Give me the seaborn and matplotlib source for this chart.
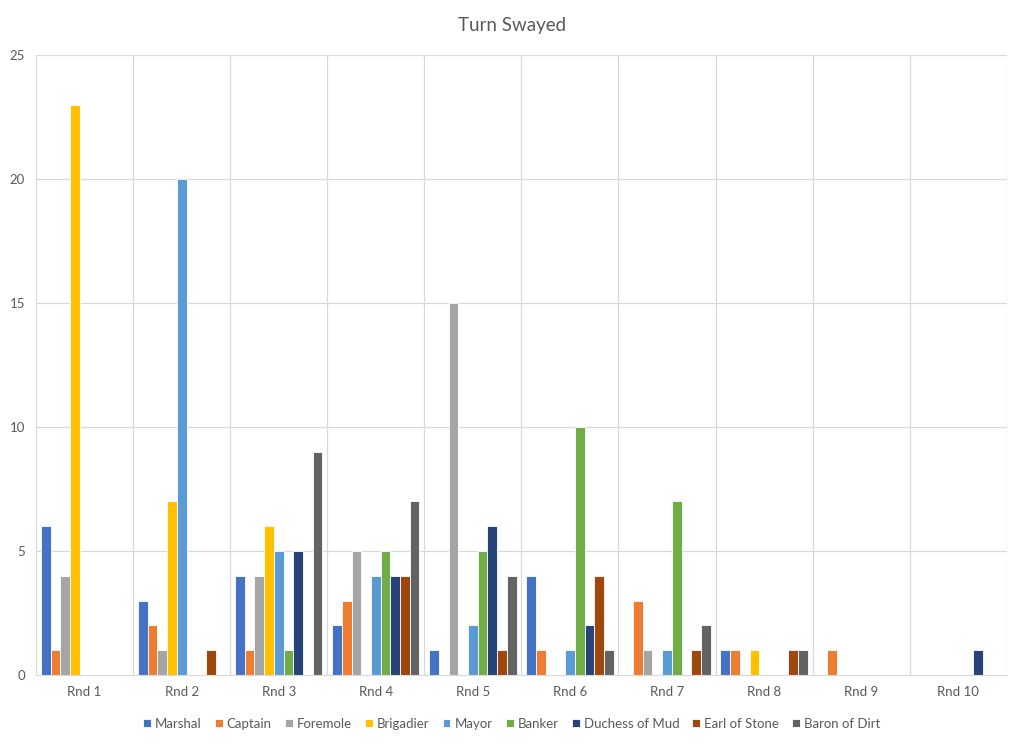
import numpy as np
import pandas as pd
import seaborn as sns
import matplotlib.pyplot as plt
from matplotlib.ticker import MultipleLocator

rounds = ['Rnd 1', 'Rnd 2', 'Rnd 3', 'Rnd 4', 'Rnd 5',
          'Rnd 6', 'Rnd 7', 'Rnd 8', 'Rnd 9', 'Rnd 10']
marshal    = [6, 3, 4, 2, 1, 4, 0, 1, 0, 0]
captain    = [1, 2, 1, 3, 0, 1, 3, 1, 1, 0]
foremole   = [4, 1, 4, 5, 15, 0, 1, 0, 0, 0]
brigadier  = [23, 7, 6, 0, 0, 0, 0, 1, 0, 0]
mayor      = [0, 20, 5, 4, 2, 1, 1, 0, 0, 0]
banker     = [0, 0, 1, 5, 5, 10, 7, 0, 0, 0]
duchess    = [0, 0, 5, 4, 6, 2, 0, 0, 0, 1]
earl       = [0, 1, 0, 4, 1, 4, 1, 1, 0, 0]
baron      = [0, 0, 9, 7, 4, 1, 2, 1, 0, 0]

series = {
    'Marshal': marshal, 'Captain': captain, 'Foremole': foremole,
    'Brigadier': brigadier, 'Mayor': mayor, 'Banker': banker,
    'Duchess of Mud': duchess, 'Earl of Stone': earl, 'Baron of Dirt': baron,
}
colors = ['#4472C4', '#ED7D31', '#A5A5A5', '#FFC000', '#5B9BD5',
          '#70AD47', '#264478', '#9E480E', '#636363']

df = pd.DataFrame(series, index=rounds).reset_index(names='round')
df = df.melt(id_vars='round', var_name='role', value_name='turns')

sns.set_style('white')
plt.rcParams['font.family'] = ['Lato', 'DejaVu Sans']
txt = '#595959'

fig = plt.figure(figsize=(10.24, 7.44), dpi=100)
ax = fig.add_axes([0.0352, 0.0927, 0.948, 0.8333])

sns.barplot(data=df, x='round', y='turns', hue='role', palette=colors,
            saturation=1, width=0.9, edgecolor='white', linewidth=0.6, ax=ax)

ax.set_xlim(-0.5, len(rounds) - 0.5)
ax.set_ylim(0, 25)
ax.yaxis.set_major_locator(MultipleLocator(5))
for y in range(5, 26, 5):
    ax.axhline(y, color='#D9D9D9', lw=0.9, zorder=0)
for x in np.arange(-0.5, len(rounds), 1):
    ax.axvline(x, color='#D9D9D9', lw=0.9, zorder=0)

for s in ['top', 'right', 'left']:
    ax.spines[s].set_visible(False)
ax.spines['bottom'].set_color('#D9D9D9')
ax.tick_params(axis='both', length=0, labelsize=9.5, colors=txt, pad=8)
ax.set_xlabel('')
ax.set_ylabel('')
fig.text(0.5, 0.966, 'Turn Swayed', fontsize=13.5, color=txt,
         ha='center', va='center')

ax.legend(loc='upper center', bbox_to_anchor=(0.49, -0.05), ncol=9,
          frameon=False, fontsize=9.5, handlelength=0.6, handleheight=0.6,
          handletextpad=0.3, columnspacing=1.0, labelcolor=txt)

fig.savefig('out.png', dpi=100)
